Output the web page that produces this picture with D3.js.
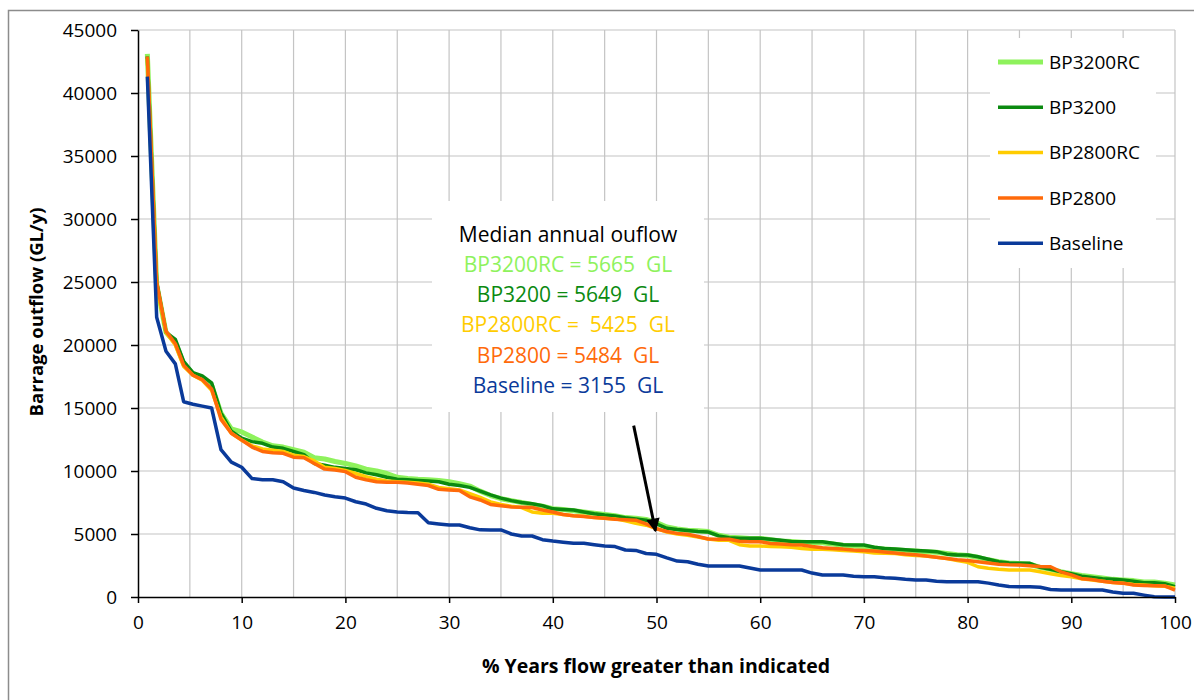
<!DOCTYPE html>
<html>
<head>
    <title>Barrage outflow exceedance</title>
    <script src="https://d3js.org/d3.v7.min.js"></script>
    <style>
        body {
            margin: 0;
            background: #fff;
            font-family: "Open Sans", "Liberation Sans", sans-serif;
            overflow: hidden;
        }

        .grid line {
            stroke: #c4c4c4;
            stroke-width: 1.2;
        }

        .axis path,
        .axis line {
            stroke: #000;
            stroke-width: 1.5;
        }

        .axis text {
            font-family: "Open Sans", sans-serif;
            font-size: 19px;
            fill: #000;
        }

        .title {
            font-family: "Open Sans", sans-serif;
            font-weight: bold;
            fill: #000;
        }

        .series {
            fill: none;
            stroke-linejoin: round;
        }
    </style>
</head>
<body>
    <div id="chart"></div>

    <script>
        // % of years flow greater than indicated
        const pct = [0.9, 1.8, 2.7, 3.6, 4.4, 5.3, 6.2, 7.1,
            8, 9, 10, 11, 12, 13, 14, 15, 16, 17, 18, 19, 20,
            21, 22, 23, 24, 25, 26, 27, 28, 29, 30, 31, 32, 33, 34, 35, 36, 37, 38, 39, 40,
            41, 42, 43, 44, 45, 46, 47, 48, 49, 50, 51, 52, 53, 54, 55, 56, 57, 58, 59, 60,
            61, 62, 63, 64, 65, 66, 67, 68, 69, 70, 71, 72, 73, 74, 75, 76, 77, 78, 79, 80,
            81, 82, 83, 84, 85, 86, 87, 88, 89, 90, 91, 92, 93, 94, 95, 96, 97, 98, 99, 100];

        // Barrage outflow (GL/y)
        const bp3200rc = [43100, 24800, 21000, 20200, 18500, 17700, 17400, 16800,
            14600, 13350, 13100, 12700, 12300, 12000, 11900, 11700, 11500, 11050, 10950, 10750, 10600,
            10400, 10150, 10000, 9800, 9500, 9400, 9340, 9300, 9250, 9150, 9000, 8800, 8400, 8050, 7800, 7650, 7500, 7350, 7200, 7000,
            6950, 6850, 6750, 6650, 6550, 6450, 6300, 6250, 6150, 5900, 5550, 5400, 5300, 5250, 5200, 4900, 4750, 4700, 4650, 4650,
            4550, 4450, 4400, 4350, 4300, 4300, 4200, 4100, 4050, 4000, 3900, 3800, 3750, 3700, 3650, 3600, 3550, 3450, 3350, 3300,
            3150, 2950, 2800, 2700, 2650, 2600, 2350, 2200, 2000, 1850, 1700, 1600, 1500, 1400, 1350, 1300, 1200, 1200, 1100, 950];

        const bp3200 = [42900, 25000, 21000, 20450, 18700, 17800, 17550, 17000,
            14600, 13150, 12600, 12330, 12200, 11900, 11800, 11550, 11300, 10600, 10450, 10290, 10200,
            10100, 9850, 9700, 9500, 9340, 9300, 9250, 9200, 9150, 8950, 8850, 8700, 8400, 8100, 7850, 7650, 7500, 7400, 7250, 7000,
            6950, 6900, 6750, 6600, 6500, 6430, 6300, 6200, 6100, 5800, 5450, 5350, 5270, 5200, 5150, 4850, 4700, 4660, 4660, 4660,
            4580, 4500, 4400, 4390, 4390, 4390, 4270, 4150, 4130, 4130, 3950, 3850, 3800, 3750, 3700, 3650, 3600, 3400, 3330, 3330,
            3200, 3000, 2800, 2700, 2680, 2670, 2350, 2200, 2000, 1850, 1650, 1550, 1450, 1400, 1350, 1250, 1140, 1140, 1050, 820];

        const bp2800rc = [42700, 24700, 21000, 20000, 18300, 17600, 17200, 16400,
            14300, 13000, 12450, 12000, 11750, 11650, 11550, 11250, 11150, 10800, 10300, 10200, 10050,
            9800, 9550, 9350, 9200, 9150, 9100, 9050, 8950, 8700, 8600, 8500, 8200, 7900, 7550, 7350, 7200, 7100, 6750, 6650, 6650,
            6550, 6450, 6400, 6300, 6250, 6200, 6050, 5850, 5700, 5420, 5150, 5000, 4900, 4750, 4600, 4500, 4500, 4150, 4050, 4050,
            4000, 3980, 3950, 3850, 3780, 3780, 3750, 3700, 3650, 3600, 3500, 3470, 3450, 3350, 3300, 3250, 3150, 3050, 2900, 2750,
            2400, 2280, 2200, 2140, 2140, 2140, 2000, 1850, 1700, 1600, 1450, 1350, 1250, 1150, 1100, 1000, 950, 900, 850, 690];

        const bp2800 = [42900, 25000, 21100, 20100, 18400, 17600, 17250, 16500,
            14100, 13000, 12450, 11900, 11550, 11450, 11400, 11100, 11050, 10600, 10150, 10080, 9950,
            9500, 9300, 9150, 9100, 9100, 9050, 8950, 8850, 8550, 8500, 8450, 7950, 7700, 7350, 7250, 7150, 7130, 7100, 6900, 6750,
            6550, 6450, 6380, 6300, 6250, 6170, 6130, 6100, 5800, 5420, 5200, 5050, 4980, 4800, 4600, 4580, 4580, 4420, 4390, 4390,
            4250, 4200, 4150, 4130, 4000, 3900, 3850, 3800, 3730, 3700, 3650, 3580, 3500, 3410, 3350, 3250, 3150, 3050, 2950, 2900,
            2800, 2700, 2600, 2560, 2540, 2480, 2430, 2400, 2000, 1750, 1450, 1380, 1250, 1150, 1100, 950, 920, 900, 880, 555];

        const baseline = [41300, 22200, 19500, 18500, 15500, 15300, 15150, 15000,
            11700, 10700, 10300, 9400, 9300, 9300, 9150, 8650, 8450, 8300, 8100, 7960, 7850,
            7560, 7380, 7040, 6850, 6750, 6700, 6690, 5900, 5800, 5710, 5710, 5500, 5330, 5320, 5320, 5000, 4840, 4840, 4550, 4440,
            4350, 4260, 4260, 4150, 4050, 4000, 3730, 3700, 3450, 3390, 3100, 2850, 2800, 2600, 2460, 2460, 2460, 2460, 2300, 2140,
            2140, 2140, 2140, 2140, 1900, 1750, 1750, 1750, 1650, 1610, 1610, 1520, 1480, 1400, 1350, 1350, 1250, 1215, 1215, 1215,
            1215, 1100, 950, 830, 820, 820, 780, 600, 555, 555, 555, 555, 555, 400, 290, 290, 150, 20, 0, 0];

        const seriesNames = ["BP3200RC", "BP3200", "BP2800RC", "BP2800", "Baseline"];
        const seriesValues = [bp3200rc, bp3200, bp2800rc, bp2800, baseline];
        const seriesColors = ["#8ef25c", "#0b8a10", "#ffcc00", "#ff6a0a", "#0a3a9a"];
        const seriesWidths = [5, 3.5, 3.5, 3.5, 3.5];

        const medianLabels = ["BP3200RC = 5665  GL", "BP3200 = 5649  GL", "BP2800RC =  5425  GL",
            "BP2800 = 5484  GL", "Baseline = 3155  GL"];

        const xTicks = [0, 10, 20, 30, 40, 50, 60, 70, 80, 90, 100];
        const xGrid = [5, 10, 15, 20, 25, 30, 35, 40, 45, 50, 55, 60, 65, 70, 75, 80, 85, 90, 95, 100];
        const yTicks = [0, 5000, 10000, 15000, 20000, 25000, 30000, 35000, 40000, 45000];

        // arrow pointing at the median, in data units
        const arrowFrom = [47.8, 13600];
        const arrowTo = [49.9, 5250];

        const width = 1194;
        const height = 700;
        const margin = {top: 30, right: 19, bottom: 103, left: 138};
        const innerWidth = width - margin.left - margin.right;
        const innerHeight = height - margin.top - margin.bottom;

        const svg = d3.select("#chart").append("svg")
            .attr("width", width)
            .attr("height", height)
            .style("display", "block");

        // outer chart frame (only left and top edges are inside the picture)
        svg.append("path")
            .attr("d", `M8.5,${height}V10.5H${width}`)
            .attr("fill", "none")
            .attr("stroke", "#8c8c8c")
            .attr("stroke-width", 1.5);

        const g = svg.append("g")
            .attr("transform", `translate(${margin.left},${margin.top})`);

        const x = d3.scaleLinear().domain([0, 100]).range([0, innerWidth]);
        const y = d3.scaleLinear().domain([0, 45000]).range([innerHeight, 0]);

        // gridlines
        const grid = g.append("g").attr("class", "grid");
        grid.selectAll(".gx")
            .data(xGrid)
            .enter().append("line")
            .attr("x1", d => x(d)).attr("x2", d => x(d))
            .attr("y1", 0).attr("y2", innerHeight);
        grid.selectAll(".gy")
            .data(yTicks.filter(d => d > 0))
            .enter().append("line")
            .attr("x1", 0).attr("x2", innerWidth)
            .attr("y1", d => y(d)).attr("y2", d => y(d));

        // white boxes behind the legend and the annotation
        g.append("rect")
            .attr("x", 990 - margin.left).attr("y", 38 - margin.top)
            .attr("width", 166).attr("height", 230)
            .attr("fill", "#fff");
        g.append("rect")
            .attr("x", 432 - margin.left).attr("y", 201 - margin.top)
            .attr("width", 272).attr("height", 211)
            .attr("fill", "#fff");

        // series
        const line = d3.line()
            .x((d, i) => x(pct[i]))
            .y(d => y(d));

        g.selectAll(".series")
            .data(seriesValues)
            .enter().append("path")
            .attr("class", "series")
            .attr("stroke", (d, i) => seriesColors[i])
            .attr("stroke-width", (d, i) => seriesWidths[i])
            .attr("d", line);

        // axes
        g.append("g")
            .attr("class", "axis")
            .attr("transform", `translate(0,${innerHeight})`)
            .call(d3.axisBottom(x).tickValues(xTicks).tickSize(6).tickPadding(13).tickSizeOuter(0))
            .call(a => a.selectAll("text").attr("dy", "0.71em"));

        g.append("g")
            .attr("class", "axis")
            .call(d3.axisLeft(y).tickValues(yTicks).tickFormat(d3.format("d")).tickSize(7).tickPadding(14).tickSizeOuter(0));

        // axis titles
        svg.append("text")
            .attr("class", "title")
            .attr("x", 656)
            .attr("y", 673)
            .attr("text-anchor", "middle")
            .style("font-size", "19.5px")
            .text("% Years flow greater than indicated");

        svg.append("text")
            .attr("class", "title")
            .attr("transform", "rotate(-90)")
            .attr("x", -312)
            .attr("y", 43)
            .attr("text-anchor", "middle")
            .style("font-size", "18.5px")
            .text("Barrage outflow (GL/y)");

        // legend
        const legend = svg.append("g")
            .attr("transform", "translate(998,62)");
        const item = legend.selectAll(".item")
            .data(seriesNames)
            .enter().append("g")
            .attr("transform", (d, i) => `translate(0,${i * 45.3})`);
        item.append("line")
            .attr("x1", 0).attr("x2", 45)
            .attr("stroke", (d, i) => seriesColors[i])
            .attr("stroke-width", (d, i) => seriesWidths[i]);
        item.append("text")
            .attr("x", 51)
            .attr("dy", "0.35em")
            .style("font-size", "19px")
            .text(d => d);

        // median annotation
        const note = svg.append("g")
            .attr("text-anchor", "middle")
            .style("font-size", "21px");
        note.append("text")
            .attr("x", 568).attr("y", 242)
            .attr("fill", "#000")
            .text("Median annual ouflow");
        note.selectAll(".med")
            .data(medianLabels)
            .enter().append("text")
            .attr("x", 568)
            .attr("y", (d, i) => 272 + i * 30.2)
            .attr("fill", (d, i) => seriesColors[i])
            .style("white-space", "pre")
            .text(d => d);

        // arrow
        svg.append("defs").append("marker")
            .attr("id", "head")
            .attr("viewBox", "0 0 10 10")
            .attr("refX", 9).attr("refY", 5)
            .attr("markerWidth", 5).attr("markerHeight", 4.5)
            .attr("markerUnits", "strokeWidth")
            .attr("orient", "auto")
            .append("path")
            .attr("d", "M0,0L10,5L0,10Z")
            .attr("fill", "#000");

        g.append("line")
            .attr("x1", x(arrowFrom[0])).attr("y1", y(arrowFrom[1]))
            .attr("x2", x(arrowTo[0])).attr("y2", y(arrowTo[1]))
            .attr("stroke", "#000")
            .attr("stroke-width", 3)
            .attr("marker-end", "url(#head)");
    </script>
</body>
</html>
